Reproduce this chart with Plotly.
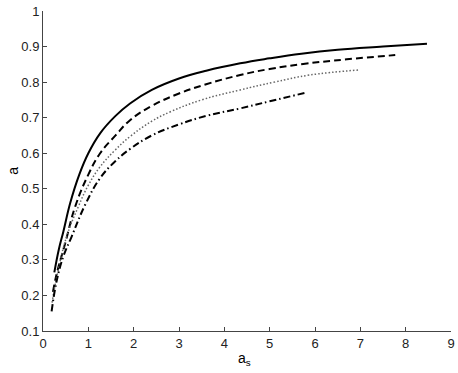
import plotly.graph_objects as go

# curve data
as_solid = [0.25, 0.35, 0.45, 0.6, 0.8, 1.0, 1.26, 1.6, 1.92, 2.4, 3.0, 3.6, 4.35, 5.0, 5.7, 6.5, 7.5, 8.47]
a_solid = [0.265, 0.33, 0.38, 0.46, 0.54, 0.60, 0.656, 0.705, 0.74, 0.778, 0.810, 0.832, 0.853, 0.867, 0.880, 0.891, 0.900, 0.908]

as_dash = [0.22, 0.3, 0.49, 0.71, 1.0, 1.26, 1.6, 1.92, 2.4, 3.0, 3.6, 4.35, 5.0, 5.74, 6.7, 7.77]
a_dash = [0.21, 0.26, 0.347, 0.45, 0.54, 0.60, 0.65, 0.693, 0.733, 0.768, 0.794, 0.82, 0.837, 0.851, 0.864, 0.876]

as_dot = [0.2, 0.3, 0.52, 0.78, 1.0, 1.26, 1.6, 1.92, 2.4, 2.8, 3.5, 4.35, 5.1, 5.89, 6.96]
a_dot = [0.18, 0.25, 0.365, 0.45, 0.51, 0.562, 0.61, 0.647, 0.69, 0.716, 0.75, 0.778, 0.80, 0.82, 0.834]

as_dashdot = [0.19, 0.3, 0.45, 0.63, 0.93, 1.26, 1.6, 1.92, 2.4, 3.0, 3.6, 4.35, 5.0, 5.82]
a_dashdot = [0.155, 0.24, 0.31, 0.365, 0.455, 0.53, 0.578, 0.612, 0.65, 0.681, 0.705, 0.726, 0.746, 0.771]

x_ticks = [0, 1, 2, 3, 4, 5, 6, 7, 8, 9]
y_ticks = [0.1, 0.2, 0.3, 0.4, 0.5, 0.6, 0.7, 0.8, 0.9, 1]
y_labels = ['0.1', '0.2', '0.3', '0.4', '0.5', '0.6', '0.7', '0.8', '0.9', '1']

font_name = 'Liberation Sans, Arial'

fig = go.Figure()
fig.add_trace(go.Scatter(x=as_solid, y=a_solid, mode='lines', line_shape='spline',
                         line=dict(color='black', width=2, smoothing=1.2)))
fig.add_trace(go.Scatter(x=as_dash, y=a_dash, mode='lines', line_shape='spline',
                         line=dict(color='black', width=2, dash='7px,4px', smoothing=1.2)))
fig.add_trace(go.Scatter(x=as_dot, y=a_dot, mode='lines', line_shape='spline',
                         line=dict(color='#666666', width=1.5, dash='1.5px,2px', smoothing=1.2)))
fig.add_trace(go.Scatter(x=as_dashdot, y=a_dashdot, mode='lines', line_shape='spline',
                         line=dict(color='black', width=2, dash='7px,3px,1.5px,3px', smoothing=1.2)))

axis_style = dict(showline=True, linecolor='#444444', linewidth=1, ticks='inside', ticklen=4,
                  tickcolor='#444444', showgrid=False, zeroline=False, automargin=False,
                  tickfont=dict(family=font_name, size=13, color='#222222'))

fig.update_xaxes(range=[0, 9], tickvals=x_ticks, ticktext=[str(t) for t in x_ticks], **axis_style)
fig.update_yaxes(range=[0.1, 1], tickvals=y_ticks, ticktext=y_labels, **axis_style)

# axis labels placed as annotations (MATLAB-like positions)
fig.add_annotation(text='a<sub>s</sub>', xref='paper', yref='paper', x=0.495, y=-0.052,
                   xanchor='center', yanchor='top', showarrow=False,
                   font=dict(family=font_name, size=14, color='black'))
fig.add_annotation(text='a', xref='paper', yref='paper', x=-0.074, y=0.5,
                   xanchor='center', yanchor='middle', textangle=-90, showarrow=False,
                   font=dict(family=font_name, size=14, color='black'))

fig.update_layout(width=458, height=373, showlegend=False,
                  margin=dict(l=43, r=7, t=11, b=42),
                  plot_bgcolor='white', paper_bgcolor='white')

# drop the default 8px body margin so the figure sits at the window's corner
fig.write_html("out.html", config={'displayModeBar': False},
               post_script="document.body.style.margin='0';")
